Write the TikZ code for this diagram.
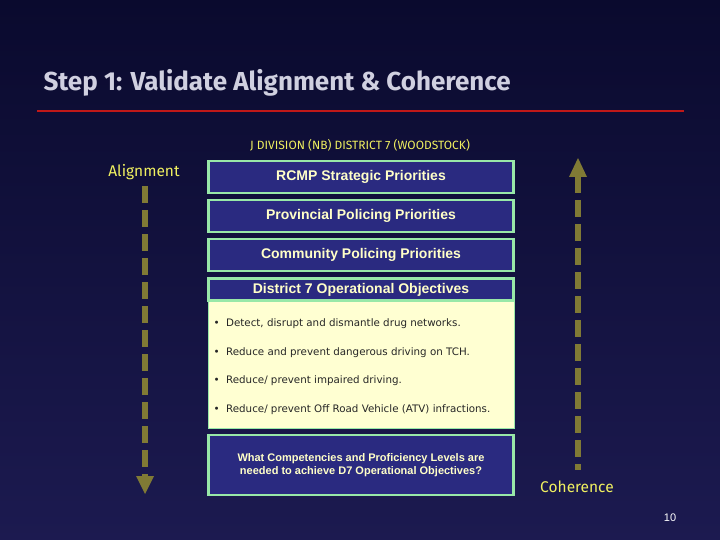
\documentclass[tikz,border=0pt]{standalone}
\usepackage{fontspec}
\setmainfont{Liberation Sans}
\newfontfamily\titlefont{Fira Sans}
\newfontfamily\bodyfont{DejaVu Sans}
\usetikzlibrary{arrows.meta}
\definecolor{bgtop}{HTML}{0A0A2E}
\definecolor{bgbot}{HTML}{1C1A50}
\definecolor{boxfill}{HTML}{2A2A80}
\definecolor{boxedge}{HTML}{98E8A8}
\definecolor{lighttext}{HTML}{FFFFC8}
\definecolor{ytext}{HTML}{F0F060}
\definecolor{olive}{HTML}{807A35}
\definecolor{paleyellow}{HTML}{FFFFD2}
\definecolor{titlecol}{HTML}{D0D0E0}
\definecolor{redline}{HTML}{C01818}
\tikzset{
  x=1pt,y=-1pt,
  prio/.style={draw=boxedge,line width=2.5pt,fill=boxfill,minimum width=305pt,text=lighttext,font=\bfseries\fontsize{14}{17}\selectfont,inner sep=0pt},
  bul/.style={anchor=west,font=\bodyfont\fontsize{10.3}{12}\selectfont,text=black!85},
  ylabel/.style={text=ytext,font=\titlefont\fontsize{15.5}{18}\selectfont},
  dasharrow/.style={draw=olive,line width=6pt,dash pattern=on 17pt off 7pt},
}
\begin{document}
\begin{tikzpicture}
\useasboundingbox (0,0) rectangle (720,540);
\shade[top color=bgtop,bottom color=bgbot] (0,0) rectangle (720,540);
\node[anchor=west,text=titlecol,font=\titlefont\bfseries\fontsize{26}{30}\selectfont] (title) at (40,83) {Step 1: Validate Alignment \& Coherence};
\draw[redline,line width=2.5pt] (37,111) -- (684,111);
\node[ylabel,font=\titlefont\fontsize{12}{14}\selectfont] (jdiv) at (360,145) {J DIVISION (NB) DISTRICT 7 (WOODSTOCK)};
\node[ylabel] (align) at (144,172) {Alignment};
\node[ylabel] (coh) at (577,487) {Coherence};
\node[prio,minimum height=32pt] (rcmp) at (361,177) {RCMP Strategic Priorities};
\node[prio,minimum height=32pt] (prov) at (361,216) {Provincial Policing Priorities};
\node[prio,minimum height=32pt] (comm) at (361,255) {Community Policing Priorities};
\node[draw=boxedge,line width=1pt,fill=paleyellow,minimum width=306pt,minimum height=128pt,inner sep=0pt] (obj) at (361,364) {};
\node[prio,minimum height=22pt] (d7) at (361,289.5) {District 7 Operational Objectives};
\node[bul] (b1) at (210,324) {\textbullet\ \ Detect, disrupt and dismantle drug networks.};
\node[bul] (b2) at (210,353) {\textbullet\ \ Reduce and prevent dangerous driving on TCH.};
\node[bul] (b3) at (210,381) {\textbullet\ \ Reduce/ prevent impaired driving.};
\node[bul] (b4) at (210,410) {\textbullet\ \ Reduce/ prevent Off Road Vehicle (ATV) infractions.};
\node[prio,minimum height=60pt,font=\bfseries\fontsize{11}{13.5}\selectfont,align=center] (q) at (361,465) {What Competencies and Proficiency Levels are\\needed to achieve D7 Operational Objectives?};
\coordinate (ltop) at (145,186);
\coordinate (lbot) at (145,476);
\coordinate (rtop) at (578,176);
\coordinate (rbot) at (578,470);
\draw[dasharrow] (ltop) -- (lbot);
\fill[olive] (136,476) -- (154,476) -- (145,494) -- cycle;
\draw[dasharrow] (rtop) -- (rbot);
\fill[olive] (569,177) -- (587,177) -- (578,158) -- cycle;
\node[text=white,font=\fontsize{11}{13}\selectfont] (pg) at (670,518) {10};
\end{tikzpicture}
\end{document}
